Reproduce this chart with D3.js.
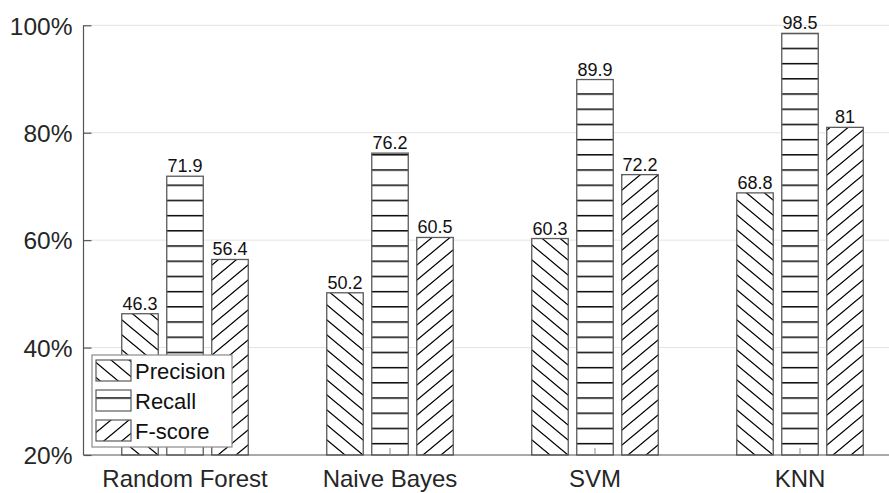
<!DOCTYPE html>
<html>
<head>
<meta charset="utf-8">
<script src="https://cdn.jsdelivr.net/npm/d3@7"></script>
<style>
  html, body { margin: 0; padding: 0; background: #fff; }
  svg { display: block; }
  text { font-family: "Liberation Sans", Arial, Helvetica, sans-serif; }
</style>
</head>
<body>
<svg id="chart" width="889" height="493"></svg>
<script>
const categories = ["Random Forest", "Naive Bayes", "SVM", "KNN"];
const seriesNames = ["Precision", "Recall", "F-score"];
const precision = [46.3, 50.2, 60.3, 68.8];
const recall = [71.9, 76.2, 89.9, 98.5];
const fscore = [56.4, 60.5, 72.2, 81];
const yTicks = [20, 40, 60, 80, 100];

const seriesValues = [precision, recall, fscore];
const patternIds = ["hatch-back", "hatch-horiz", "hatch-fwd"];

const svg = d3.select("#chart");
const W = 889, H = 493;
const plotLeft = 83.5, plotBottom = 455, plotTop = 25.3;

const x0 = d3.scaleBand().domain(categories).range([82.5, 902.5]).padding(0);
const x1 = d3.scaleBand().domain(seriesNames).range([-63.25, 63.25]).paddingInner(0.189).paddingOuter(0);
const y = d3.scaleLinear().domain([20, 100]).range([plotBottom, plotTop]);

// patterns
const defs = svg.append("defs");
const hw = 18, hh = 15;
const pb = defs.append("pattern").attr("id", "hatch-back").attr("patternUnits", "userSpaceOnUse")
  .attr("width", hw).attr("height", hh).attr("x", 3).attr("y", 0);
pb.append("path").attr("d", `M-18,-15L36,30M-18,0L18,30M0,-15L36,15`)
  .attr("stroke", "#000").attr("stroke-width", 1.3).attr("fill", "none");
const pf = defs.append("pattern").attr("id", "hatch-fwd").attr("patternUnits", "userSpaceOnUse")
  .attr("width", hw).attr("height", hh).attr("x", 3).attr("y", 0);
pf.append("path").attr("d", `M-18,30L36,-15M-18,15L18,-15M0,30L36,0`)
  .attr("stroke", "#000").attr("stroke-width", 1.3).attr("fill", "none");
const ph = defs.append("pattern").attr("id", "hatch-horiz").attr("patternUnits", "userSpaceOnUse")
  .attr("width", 20).attr("height", 15.2).attr("x", 0).attr("y", 2.1);
ph.append("path").attr("d", `M-2,0.7H22`)
  .attr("stroke", "#000").attr("stroke-width", 1.5).attr("fill", "none");

// gridlines
svg.append("g").selectAll("line").data(yTicks.filter(d => d > 20)).join("line")
  .attr("x1", plotLeft).attr("x2", W).attr("y1", d => y(d)).attr("y2", d => y(d))
  .attr("stroke", "#e3e3e3").attr("stroke-width", 1);

// bars
const groups = svg.append("g").selectAll("g").data(categories).join("g")
  .attr("transform", d => `translate(${x0(d) + x0.bandwidth() / 2},0)`);

groups.each(function(cat, ci) {
  const g = d3.select(this);
  seriesNames.forEach((s, si) => {
    const v = seriesValues[si][ci];
    g.append("rect")
      .attr("x", x1(s)).attr("width", x1.bandwidth())
      .attr("y", y(v)).attr("height", y(20) - y(v))
      .attr("fill", "#fff").attr("stroke", "none");
    g.append("rect")
      .attr("x", x1(s)).attr("width", x1.bandwidth())
      .attr("y", y(v)).attr("height", y(20) - y(v))
      .attr("fill", `url(#${patternIds[si]})`)
      .attr("stroke", "#5a5a5a").attr("stroke-width", 1.3);
    g.append("text")
      .attr("x", x1(s) + x1.bandwidth() / 2)
      .attr("y", y(v) - 4)
      .attr("text-anchor", "middle")
      .attr("font-size", 18)
      .attr("fill", "#111")
      .text(String(v));
  });
});

// axes
const axisColor = "#262626";
const gy = svg.append("g").attr("transform", `translate(${plotLeft},0)`)
  .call(d3.axisLeft(y).tickValues(yTicks).tickSize(-8).tickPadding(11).tickFormat(d => d + "%"));
gy.select(".domain").attr("stroke", "#555").attr("stroke-width", 1.2).attr("d", `M0,${plotBottom}V${plotTop}`);
gy.selectAll(".tick line").attr("stroke", "#555").attr("stroke-width", 1.2);
gy.selectAll(".tick text").attr("font-size", 24.5).attr("fill", axisColor)
  .attr("font-family", '"Liberation Sans", Arial, sans-serif').attr("dy", "0.36em");

const gx = svg.append("g").attr("transform", `translate(0,${plotBottom})`)
  .call(d3.axisBottom(x0).tickSize(-7).tickPadding(15));
gx.select(".domain").attr("stroke", "#555").attr("stroke-width", 1.2).attr("d", `M${plotLeft},0H${W}`);
gx.selectAll(".tick line").attr("stroke", "#888").attr("stroke-width", 1);
gx.selectAll(".tick text").attr("font-size", 24).attr("fill", axisColor)
  .attr("font-family", '"Liberation Sans", Arial, sans-serif').attr("dy", "0.71em");

// legend
const lg = svg.append("g");
lg.append("rect").attr("x", 92).attr("y", 355).attr("width", 140).attr("height", 92)
  .attr("fill", "#fff").attr("stroke", "#8a8a8a").attr("stroke-width", 1.2);
seriesNames.forEach((s, i) => {
  const yy = 360 + i * 30;
  lg.append("rect").attr("x", 96).attr("y", yy).attr("width", 35).attr("height", 21)
    .attr("fill", "#fff");
  lg.append("rect").attr("x", 96).attr("y", yy).attr("width", 35).attr("height", 21)
    .attr("fill", `url(#${patternIds[i]})`).attr("stroke", "#5a5a5a").attr("stroke-width", 1.2);
  lg.append("text").attr("x", 135).attr("y", yy + 19)
    .attr("font-size", 22).attr("fill", "#111").text(s);
});
</script>
</body>
</html>
